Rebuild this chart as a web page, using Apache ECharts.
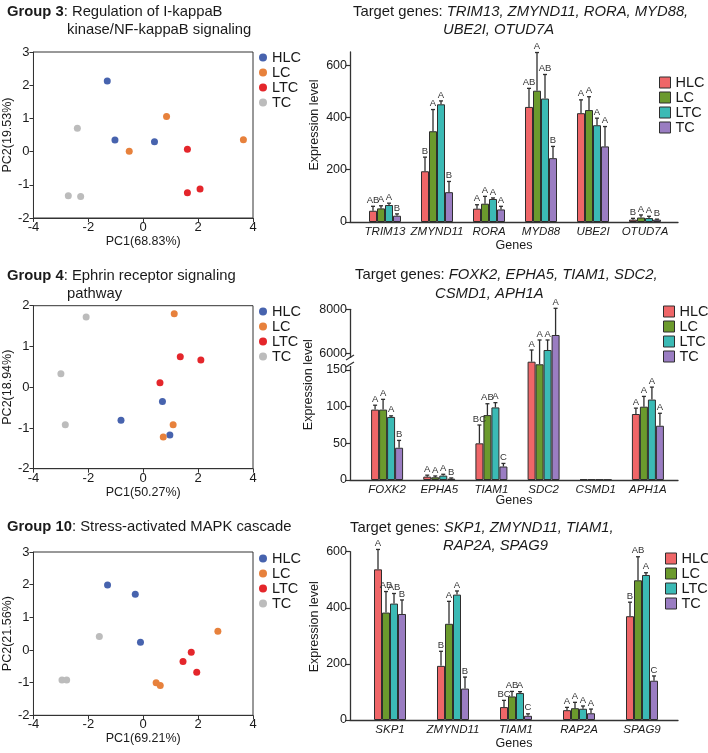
<!DOCTYPE html>
<html><head><meta charset="utf-8">
<script src="https://cdn.jsdelivr.net/npm/echarts@6/dist/echarts.min.js"></script>
<style>html,body{margin:0;padding:0;background:#fff}#c{width:708px;height:753px}</style>
</head><body><div id="c"></div>
<script>
const FONT = "'Liberation Sans', Arial, Helvetica, sans-serif";
const TXT = '#1a1a1a';
const groups = ['HLC', 'LC', 'LTC', 'TC'];
const pcaColors = ['#4763ae', '#e7813c', '#e4262b', '#bcbcbc'];
const barColors = ['#ef6668', '#6b9a2d', '#3bbab5', '#9a7dc2'];

// ---- PCA data: [PC1, PC2] ----
const pca3_HLC = [[-1.31, 2.13], [-1.03, 0.35], [0.41, 0.30]];
const pca3_LC  = [[0.85, 1.06], [-0.51, 0.01], [3.65, 0.36]];
const pca3_LTC = [[1.61, 0.07], [1.61, -1.24], [2.07, -1.13]];
const pca3_TC  = [[-2.40, 0.70], [-2.73, -1.33], [-2.28, -1.35]];

const pca4_HLC = [[0.70, -0.35], [-0.81, -0.81], [0.97, -1.17]];
const pca4_LC  = [[1.13, 1.80], [1.09, -0.92], [0.73, -1.22]];
const pca4_LTC = [[1.35, 0.75], [2.10, 0.67], [0.61, 0.11]];
const pca4_TC  = [[-2.08, 1.72], [-3.00, 0.33], [-2.84, -0.92]];

const pca10_HLC = [[-1.30, 1.99], [-0.29, 1.71], [-0.10, 0.24]];
const pca10_LC  = [[2.72, 0.57], [0.47, -1.00], [0.62, -1.09]];
const pca10_LTC = [[1.75, -0.07], [1.45, -0.35], [1.95, -0.68]];
const pca10_TC  = [[-1.60, 0.41], [-2.96, -0.92], [-2.79, -0.92]];

// ---- Bar panel, Group 3 ----
const genes3 = ['TRIM13', 'ZMYND11', 'RORA', 'MYD88', 'UBE2I', 'OTUD7A'];
const mean3_HLC = [43, 194, 51, 440, 416, 9];
const mean3_LC  = [52, 347, 70, 502, 428, 17];
const mean3_LTC = [65, 450, 88, 472, 370, 15];
const mean3_TC  = [24, 114, 48, 244, 289, 9];
const sd3_HLC = [17, 54, 15, 71, 51, 5];
const sd3_LC  = [10, 83, 28, 146, 51, 10];
const sd3_LTC = [7, 13, 4, 92, 27, 7];
const sd3_TC  = [7, 41, 12, 45, 76, 2];
const let3_HLC = ['AB', 'B', 'A', 'AB', 'A', 'B'];
const let3_LC  = ['A', 'A', 'A', 'A', 'A', 'A'];
const let3_LTC = ['A', 'A', 'A', 'AB', 'A', 'A'];
const let3_TC  = ['B', 'B', 'A', 'B', 'A', 'B'];
const ticks3 = [0, 200, 400, 600];

// ---- Bar panel, Group 4 (broken axis) ----
const genes4 = ['FOXK2', 'EPHA5', 'TIAM1', 'SDC2', 'CSMD1', 'APH1A'];
const mean4_HLC = [96, 4.6, 50, 5618, 1.0, 90];
const mean4_LC  = [96, 3.7, 88.5, 5500, 0.8, 100];
const mean4_LTC = [86, 6.0, 99, 6150, 0.6, 109.7];
const mean4_TC  = [44, 1.8, 18.4, 6832, 0.5, 74];
const sd4_HLC = [6, 2.0, 25, 532, 0, 8];
const sd4_LC  = [14, 1.8, 15.5, 1105, 0, 14];
const sd4_LTC = [1.5, 1.8, 6.5, 455, 0, 17];
const sd4_TC  = [10, 1.0, 4.2, 1213, 0, 17];
const let4_HLC = ['A', 'A', 'BC', 'A', '', 'A'];
const let4_LC  = ['A', 'A', 'AB', 'A', '', 'A'];
const let4_LTC = ['A', 'A', 'A', 'A', '', 'A'];
const let4_TC  = ['B', 'B', 'C', 'A', '', 'A'];
const ticks4 = [0, 50, 100, 150, 6000, 8000];
// broken-axis scale: lower segment 0..150 linear, upper segment 6000..8000 compressed
const BRK_LOW = 150, BRK_UP_AT = 172.8, BRK_UP_VAL = 6000, BRK_RATIO = 0.03;
function brk(v) { return v <= BRK_LOW ? v : BRK_UP_AT + (v - BRK_UP_VAL) * BRK_RATIO; }
function unbrk(d) { return d <= BRK_LOW + 1e-6 ? d : BRK_UP_VAL + (d - BRK_UP_AT) / BRK_RATIO; }

// ---- Bar panel, Group 10 ----
const genes10 = ['SKP1', 'ZMYND11', 'TIAM1', 'RAP2A', 'SPAG9'];
const mean10_HLC = [537, 193, 46, 35, 370];
const mean10_LC  = [383, 343, 84, 42, 498];
const mean10_LTC = [415, 447, 96, 40, 517];
const mean10_TC  = [378, 112, 15, 24, 140];
const sd10_HLC = [71, 52, 24, 10, 50];
const sd10_LC  = [75, 80, 18, 21, 84];
const sd10_LTC = [36, 13, 5, 10, 8];
const sd10_TC  = [50, 41, 7, 15, 17];
const let10_HLC = ['A', 'B', 'BC', 'A', 'B'];
const let10_LC  = ['AB', 'A', 'AB', 'A', 'AB'];
const let10_LTC = ['AB', 'A', 'A', 'A', 'A'];
const let10_TC  = ['B', 'B', 'C', 'A', 'C'];
const ticks10 = [0, 200, 400, 600];

// ================= option building =================
const grid = [], xAxis = [], yAxis = [], series = [], legend = [], title = [];
const BW = 8; // bar width px
const TFS = 14.8; // title font size

const rich = {
  b: { fontFamily: FONT, fontSize: TFS, fontWeight: 'bold', color: TXT, lineHeight: 17 },
  n: { fontFamily: FONT, fontSize: TFS, color: TXT, lineHeight: 17 },
  i: { fontFamily: FONT, fontSize: TFS, fontStyle: 'italic', color: TXT, lineHeight: 17 }
};
function addTitle(left, top, text) {
  title.push({ left, top, padding: 0, text, textStyle: { fontFamily: FONT, fontSize: TFS, fontWeight: 'normal', color: TXT, lineHeight: 17, rich } });
}

function pcaPanel(top, height, yMin, yMax, xName, yName, sets, legendTop) {
  const gi = grid.length;
  grid.push({ left: 33, top, width: 220, height, show: true, borderColor: '#333', borderWidth: 1 });
  xAxis.push({
    gridIndex: gi, type: 'value', min: -4, max: 4, interval: 2,
    name: xName, nameLocation: 'middle', nameGap: 15,
    nameTextStyle: { fontFamily: FONT, fontSize: 12.5, color: TXT },
    axisLine: { show: true, onZero: false, lineStyle: { color: '#333', width: 1 } },
    axisTick: { show: true, length: 4, lineStyle: { color: '#333' } },
    axisLabel: { fontFamily: FONT, fontSize: 13, color: TXT, margin: 3 },
    splitLine: { show: false }
  });
  yAxis.push({
    gridIndex: gi, type: 'value', min: yMin, max: yMax, interval: 1,
    name: yName, nameLocation: 'middle', nameGap: 17,
    nameTextStyle: { fontFamily: FONT, fontSize: 12.5, color: TXT },
    axisLine: { show: true, onZero: false, lineStyle: { color: '#333', width: 1 } },
    axisTick: { show: true, length: 4, lineStyle: { color: '#333' } },
    axisLabel: { fontFamily: FONT, fontSize: 13, color: TXT, margin: 4 },
    splitLine: { show: false }
  });
  sets.forEach((d, i) => series.push({
    type: 'scatter', name: groups[i], xAxisIndex: gi, yAxisIndex: gi,
    data: d, symbolSize: 7, itemStyle: { color: pcaColors[i], opacity: 1 }
  }));
  legend.push({
    orient: 'vertical', left: 259, top: legendTop, padding: 0, itemGap: 0,
    itemWidth: 8, itemHeight: 8, selectedMode: false,
    textStyle: { fontFamily: FONT, fontSize: 14.5, color: TXT, lineHeight: 14 },
    data: groups.map((g, i) => ({ name: g, icon: 'circle', itemStyle: { color: pcaColors[i], borderWidth: 0 } }))
  });
}

function barPanel(cfg) {
  const { top, bottom, dataLeft, dataRight, yMax, ticks, fmt, tf, genes, means, sds, lets, namePad, genesGap, legendTop, legendLeft, legendLH } = cfg;
  const h = bottom - top;
  // data grid
  const di = grid.length;
  grid.push({ left: dataLeft, top, width: dataRight - dataLeft, height: h });
  xAxis.push({
    gridIndex: di, type: 'category', data: genes,
    axisLine: { show: false }, axisTick: { show: false },
    axisLabel: { interval: 0, fontFamily: FONT, fontSize: 11.5, fontStyle: 'italic', color: TXT, margin: 4 }
  });
  yAxis.push({ gridIndex: di, type: 'value', min: 0, max: yMax, show: false, splitLine: { show: false } });
  // frame grid (axis lines, ticks, names)
  const fi = grid.length;
  grid.push({ left: 350, top, width: 328, height: h });
  xAxis.push({
    gridIndex: fi, type: 'value', min: 0, max: 1,
    name: 'Genes', nameLocation: 'middle', nameGap: genesGap,
    nameTextStyle: { fontFamily: FONT, fontSize: 12.5, color: TXT },
    axisLine: { show: true, onZero: false, lineStyle: { color: '#333', width: 1.3 } },
    axisTick: { show: false }, axisLabel: { show: false }, splitLine: { show: false }
  });
  yAxis.push({
    gridIndex: fi, type: 'value', min: 0, max: yMax,
    name: 'Expression level', nameLocation: 'middle', nameGap: 29,
    nameTextStyle: { fontFamily: FONT, fontSize: 12.5, color: TXT, padding: [0, 0, 0, namePad] },
    axisLine: { show: true, onZero: false, lineStyle: { color: '#333', width: 1.3 } },
    axisTick: { show: true, length: 4, customValues: ticks.map(tf), lineStyle: { color: '#333', width: 1.2 } },
    axisLabel: { fontFamily: FONT, fontSize: 12.5, color: TXT, margin: 3, customValues: ticks.map(tf), formatter: fmt },
    splitLine: { show: false }
  });
  const errItems = [];
  groups.forEach((g, k) => {
    series.push({
      type: 'bar', name: g, xAxisIndex: di, yAxisIndex: di,
      data: means[k].map(tf), barWidth: BW, barGap: '0%', clip: true,
      itemStyle: { color: barColors[k], borderColor: '#2e2e2e', borderWidth: 1 }
    });
    means[k].forEach((m, c) => {
      errItems.push({ value: [c, tf(m), tf(m + sds[k][c]), k], letter: lets[k][c], sd: sds[k][c] });
    });
  });
  series.push({
    type: 'custom', xAxisIndex: di, yAxisIndex: di, clip: false, z: 5,
    data: errItems.map(e => e.value),
    encode: { x: 0, y: [1, 2] },
    renderItem: function (params, api) {
      const it = errItems[params.dataIndex];
      const c = api.value(0), lo = api.value(1), hi = api.value(2), k = api.value(3);
      const pLo = api.coord([c, lo]);
      const pHi = api.coord([c, hi]);
      const x = pLo[0] + (k - 1.5) * BW;
      const children = [];
      if (it.sd > 0) {
        children.push({ type: 'line', shape: { x1: x, y1: pLo[1], x2: x, y2: pHi[1] }, style: { stroke: '#2e2e2e', lineWidth: 1.3 } });
        children.push({ type: 'line', shape: { x1: x - 2, y1: pHi[1], x2: x + 2, y2: pHi[1] }, style: { stroke: '#2e2e2e', lineWidth: 1.3 } });
      }
      if (it.letter) {
        children.push({ type: 'text', x: x, y: pHi[1] - 1, style: { text: it.letter, fontFamily: FONT, fontSize: 9.5, fill: '#333', align: 'center', verticalAlign: 'bottom' } });
      }
      return { type: 'group', children };
    }
  });
  legend.push({
    orient: 'vertical', left: legendLeft, top: legendTop, padding: 0, itemGap: 0,
    itemWidth: 11, itemHeight: 11, selectedMode: false,
    textStyle: { fontFamily: FONT, fontSize: 14.5, color: TXT, lineHeight: legendLH },
    data: groups.map((g, i) => ({ name: g, icon: 'rect', itemStyle: { color: barColors[i], borderColor: '#2e2e2e', borderWidth: 1 } }))
  });
  return { di, fi };
}

const ident = v => v;

// ---- Row 1 ----
addTitle(7, 3, '{b|Group 3}{n|: Regulation of I-kappaB}');
addTitle(67, 21, 'kinase/NF-kappaB signaling');
pcaPanel(52, 166, -2, 3, 'PC1(68.83%)', 'PC2(19.53%)', [pca3_HLC, pca3_LC, pca3_LTC, pca3_TC], 50);
addTitle(353, 3, '{n|Target genes: }{i|' + genes3.slice(0, 4).join(', ') + ',}');
addTitle(443, 21, '{i|' + genes3.slice(4).join(', ') + '}');
barPanel({
  top: 52, bottom: 222, dataLeft: 359, dataRight: 671, yMax: 650, ticks: ticks3, fmt: v => String(v), tf: ident,
  genes: genes3, means: [mean3_HLC, mean3_LC, mean3_LTC, mean3_TC], sds: [sd3_HLC, sd3_LC, sd3_LTC, sd3_TC],
  lets: [let3_HLC, let3_LC, let3_LTC, let3_TC], namePad: 24, genesGap: 17, legendTop: 75, legendLeft: 659, legendLH: 15
});

// ---- Row 2 ----
addTitle(7, 267, '{b|Group 4}{n|: Ephrin receptor signaling}');
addTitle(67, 285, 'pathway');
pcaPanel(305.7, 163, -2, 2, 'PC1(50.27%)', 'PC2(18.94%)', [pca4_HLC, pca4_LC, pca4_LTC, pca4_TC], 304);
addTitle(355, 266, '{n|Target genes: }{i|' + genes4.slice(0, 4).join(', ') + ',}');
addTitle(435, 285, '{i|' + genes4.slice(4).join(', ') + '}');
const p4 = barPanel({
  top: 309.3, bottom: 480, dataLeft: 361, dataRight: 674, yMax: brk(8000), ticks: ticks4,
  fmt: d => String(Math.round(unbrk(d))), tf: brk,
  genes: genes4, means: [mean4_HLC, mean4_LC, mean4_LTC, mean4_TC], sds: [sd4_HLC, sd4_LC, sd4_LTC, sd4_TC],
  lets: [let4_HLC, let4_LC, let4_LTC, let4_TC], namePad: 20, genesGap: 14, legendTop: 304, legendLeft: 663, legendLH: 14
});

// ---- Row 3 ----
addTitle(7, 518, '{b|Group 10}{n|: Stress-activated MAPK cascade}');
pcaPanel(552, 163.3, -2, 3, 'PC1(69.21%)', 'PC2(21.56%)', [pca10_HLC, pca10_LC, pca10_LTC, pca10_TC], 551);
addTitle(350, 519, '{n|Target genes: }{i|' + genes10.slice(0, 3).join(', ') + ',}');
addTitle(443, 537, '{i|' + genes10.slice(3).join(', ') + '}');
barPanel({
  top: 551.7, bottom: 720, dataLeft: 358.5, dataRight: 673.5, yMax: 600, ticks: ticks10, fmt: v => String(v), tf: ident,
  genes: genes10, means: [mean10_HLC, mean10_LC, mean10_LTC, mean10_TC], sds: [sd10_HLC, sd10_LC, sd10_LTC, sd10_TC],
  lets: [let10_HLC, let10_LC, let10_LTC, let10_TC], namePad: 18, genesGap: 17, legendTop: 551, legendLeft: 665, legendLH: 14.3
});

const chart = echarts.init(document.getElementById('c'), null, { renderer: 'canvas' });
chart.setOption({
  animation: false,
  backgroundColor: '#fff',
  textStyle: { fontFamily: FONT },
  title, legend, grid, xAxis, yAxis, series
});

// axis-break marks on the Group 4 y axis, positioned through the axis scale
const brkMid = (BRK_LOW + BRK_UP_AT) / 2 - 0.5;
const bp = chart.convertToPixel({ xAxisIndex: p4.fi, yAxisIndex: p4.fi }, [0, brkMid]);
chart.setOption({
  graphic: [
    { type: 'rect', shape: { x: bp[0] - 2.5, y: bp[1] - 4, width: 5, height: 8 }, style: { fill: '#fff' }, z: 100 },
    { type: 'line', shape: { x1: bp[0] - 4, y1: bp[1] - 2, x2: bp[0] + 4, y2: bp[1] - 7 }, style: { stroke: '#333', lineWidth: 1.2 }, z: 101 },
    { type: 'line', shape: { x1: bp[0] - 4, y1: bp[1] + 5, x2: bp[0] + 4, y2: bp[1] }, style: { stroke: '#333', lineWidth: 1.2 }, z: 101 }
  ]
});
</script></body></html>
